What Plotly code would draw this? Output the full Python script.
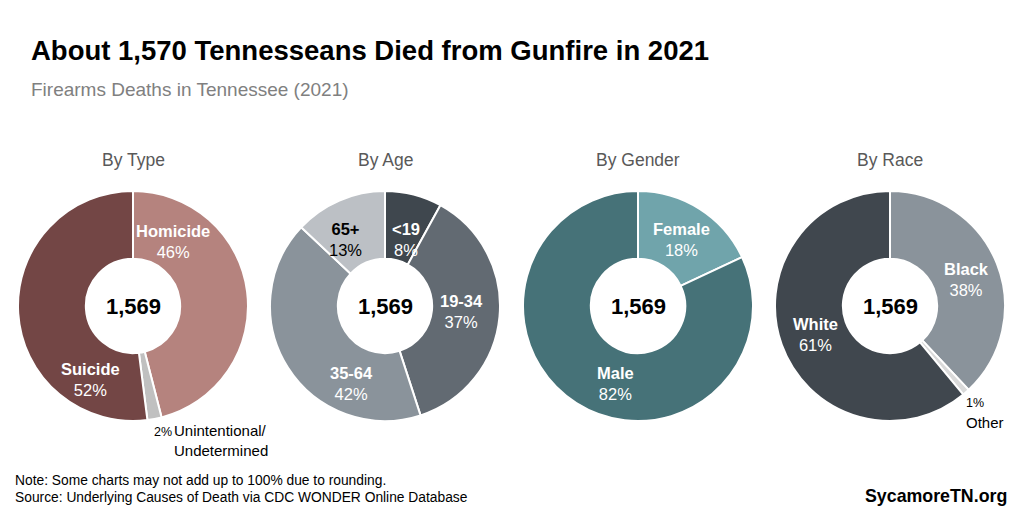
import plotly.graph_objects as go

W, H = 1024, 512

# ---- data ----
titles = ["By Type", "By Age", "By Gender", "By Race"]
total_label = "1,569"

type_labels = ["Homicide", "Unintentional/ Undetermined", "Suicide"]
type_values = [46, 2, 52]
type_colors = ["#b5837e", "#c0c0c0", "#734645"]

age_labels = ["<19", "19-34", "35-64", "65+"]
age_values = [8, 37, 42, 13]
age_colors = ["#3f474e", "#626a72", "#8a939b", "#bcc0c5"]

gender_labels = ["Female", "Male"]
gender_values = [18, 82]
gender_colors = ["#70a4ab", "#467278"]

race_labels = ["Black", "Other", "White"]
race_values = [38, 1, 61]
race_colors = ["#8a939b", "#d9d9d9", "#40474e"]

charts = [
    (type_labels, type_values, type_colors),
    (age_labels, age_values, age_colors),
    (gender_labels, gender_values, gender_colors),
    (race_labels, race_values, race_colors),
]

FONT = "Liberation Sans, Arial"

# ---- layout geometry (pixels) ----
centers_x = [133, 385, 638, 890]
center_y = 306
radius = 115
hole = 0.41

# inside label offsets from center (dx, dy) in px, and font colour; None => outside label
label_pos = [
    [(40, -65, "white"), None, (-43, 73, "white")],
    [(21, -67, "white"), (76, 5, "white"), (-34, 77, "white"), (-40, -67, "black")],
    [(43, -67, "white"), (-23, 77, "white")],
    [(76, -27, "white"), None, (-75, 28, "white")],
]

def esc(s):
    return s.replace("<", "&lt;").replace(">", "&gt;")

fig = go.Figure()
annotations = []

def px_x(x):
    return x / W

def px_y(y):
    return 1 - y / H

for i, (labels, values, colors) in enumerate(charts):
    cx = centers_x[i]
    fig.add_trace(go.Pie(
        labels=labels, values=values, sort=False, direction="clockwise", rotation=0,
        hole=hole, textinfo="none", hoverinfo="label+percent",
        marker=dict(colors=colors, line=dict(color="white", width=2)),
        domain=dict(x=[px_x(cx - radius), px_x(cx + radius)],
                    y=[px_y(center_y + radius), px_y(center_y - radius)]),
        showlegend=False,
    ))
    # title
    annotations.append(dict(x=px_x(cx), y=px_y(160), xref="paper", yref="paper",
                            text=titles[i], showarrow=False, xanchor="center", yanchor="middle",
                            font=dict(size=17.5, color="#595959", family=FONT)))
    # center total
    annotations.append(dict(x=px_x(cx), y=px_y(center_y), xref="paper", yref="paper",
                            text="<b>" + total_label + "</b>", showarrow=False,
                            xanchor="center", yanchor="middle",
                            font=dict(size=22, color="black", family=FONT)))
    for j, lab in enumerate(labels):
        pos = label_pos[i][j]
        if pos is None:
            continue
        dx, dy, col = pos
        annotations.append(dict(x=px_x(cx + dx), y=px_y(center_y + dy), xref="paper", yref="paper",
                                text="<b>%s</b><br>%d%%" % (esc(lab), values[j]), showarrow=False,
                                xanchor="center", yanchor="middle", align="center",
                                font=dict(size=16.5, color=col, family=FONT)))

# outside labels
annotations.append(dict(x=px_x(152), y=px_y(432), xref="paper", yref="paper",
                        text="%d%%" % type_values[1], showarrow=False, xanchor="left", yanchor="middle",
                        font=dict(size=12.5, color="black", family=FONT)))
annotations.append(dict(x=px_x(172), y=px_y(440), xref="paper", yref="paper",
                        text="Unintentional/<br>Undetermined", showarrow=False, xanchor="left",
                        yanchor="middle", align="left",
                        font=dict(size=15, color="black", family=FONT)))
annotations.append(dict(x=px_x(975), y=px_y(403), xref="paper", yref="paper",
                        text="%d%%" % race_values[1], showarrow=False, xanchor="center", yanchor="middle",
                        font=dict(size=12.5, color="black", family=FONT)))
annotations.append(dict(x=px_x(985), y=px_y(422), xref="paper", yref="paper",
                        text=race_labels[1], showarrow=False, xanchor="center", yanchor="middle",
                        font=dict(size=15, color="black", family=FONT)))

# title/subtitle
annotations.append(dict(x=px_x(29), y=px_y(50), xref="paper", yref="paper",
                        text="<b>About 1,570 Tennesseans Died from Gunfire in 2021</b>", showarrow=False,
                        xanchor="left", yanchor="middle",
                        font=dict(size=27.5, color="black", family=FONT)))
annotations.append(dict(x=px_x(29), y=px_y(89), xref="paper", yref="paper",
                        text="Firearms Deaths in Tennessee (2021)", showarrow=False,
                        xanchor="left", yanchor="middle",
                        font=dict(size=19, color="#808080", family=FONT)))
# notes
annotations.append(dict(x=px_x(13), y=px_y(480), xref="paper", yref="paper",
                        text="Note: Some charts may not add up to 100% due to rounding.", showarrow=False,
                        xanchor="left", yanchor="middle",
                        font=dict(size=13.8, color="black", family=FONT)))
annotations.append(dict(x=px_x(13), y=px_y(497), xref="paper", yref="paper",
                        text="Source: Underlying Causes of Death via CDC WONDER Online Database", showarrow=False,
                        xanchor="left", yanchor="middle",
                        font=dict(size=13.8, color="black", family=FONT)))
annotations.append(dict(x=px_x(1009), y=px_y(496), xref="paper", yref="paper",
                        text="<b>SycamoreTN.org</b>", showarrow=False,
                        xanchor="right", yanchor="middle",
                        font=dict(size=17.8, color="black", family=FONT)))

fig.update_layout(
    width=W, height=H, margin=dict(l=0, r=0, t=0, b=0),
    paper_bgcolor="white", plot_bgcolor="white",
    annotations=annotations,
)

fig.write_html("out.html", config={"displayModeBar": False})
